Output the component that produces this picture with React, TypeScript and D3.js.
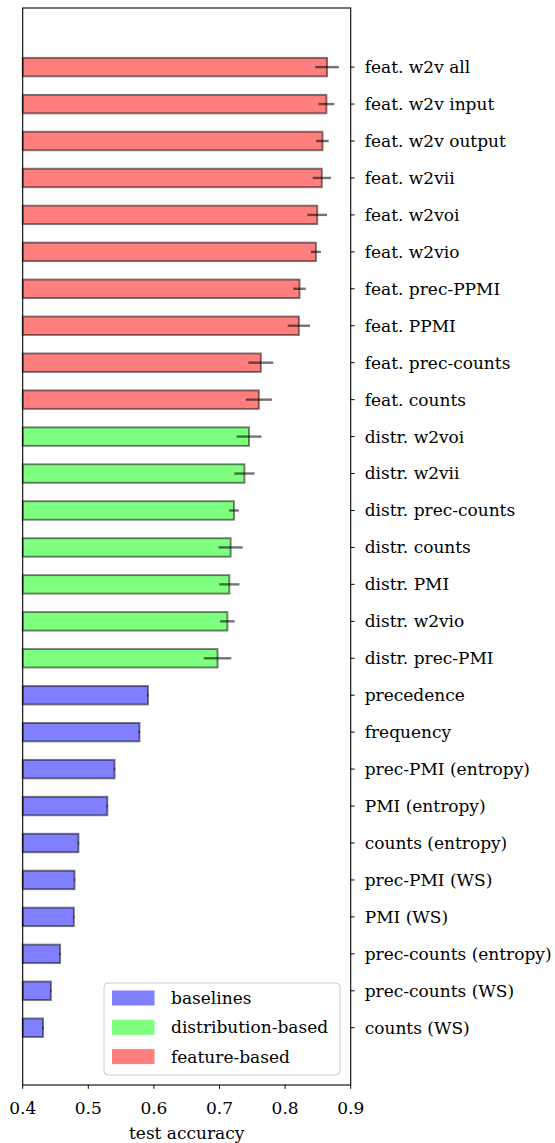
import React from "react";
import * as d3 from "d3";

const labels = [
  "feat. w2v all", "feat. w2v input", "feat. w2v output", "feat. w2vii", "feat. w2voi",
  "feat. w2vio", "feat. prec-PPMI", "feat. PPMI", "feat. prec-counts", "feat. counts",
  "distr. w2voi", "distr. w2vii", "distr. prec-counts", "distr. counts", "distr. PMI",
  "distr. w2vio", "distr. prec-PMI",
  "precedence", "frequency", "prec-PMI (entropy)", "PMI (entropy)", "counts (entropy)",
  "prec-PMI (WS)", "PMI (WS)", "prec-counts (entropy)", "prec-counts (WS)", "counts (WS)",
];
const values = [
  0.864, 0.863, 0.857, 0.856, 0.849, 0.847, 0.822, 0.821, 0.763, 0.760,
  0.745, 0.738, 0.722, 0.717, 0.715, 0.712, 0.697,
  0.591, 0.578, 0.540, 0.529, 0.485, 0.479, 0.478, 0.457, 0.443, 0.431,
];
const errors = [
  0.018, 0.012, 0.0095, 0.014, 0.015, 0.0076, 0.0095, 0.017, 0.019, 0.020,
  0.019, 0.0155, 0.0074, 0.0185, 0.0155, 0.011, 0.021,
  0.001, 0.001, 0.001, 0.001, 0.001, 0.001, 0.001, 0.001, 0.001, 0.001,
];
const groups = [
  "feature", "feature", "feature", "feature", "feature", "feature", "feature", "feature", "feature", "feature",
  "distribution", "distribution", "distribution", "distribution", "distribution", "distribution", "distribution",
  "baseline", "baseline", "baseline", "baseline", "baseline", "baseline", "baseline", "baseline", "baseline", "baseline",
];
const legendKeys = ["baseline", "distribution", "feature"];
const legendLabels = ["baselines", "distribution-based", "feature-based"];
const groupColors: Record<string, string> = {
  baseline: "#0000ff",
  distribution: "#00ff00",
  feature: "#ff0000",
};
const xTicks = [0.4, 0.5, 0.6, 0.7, 0.8, 0.9];

const FONT = "'DejaVu Serif', serif";

export default function App() {
  const W = 555, H = 1143;
  const left = 22.7, right = 350.7, top = 8, bottom = 1085;
  const x = d3.scaleLinear().domain([0.4, 0.9]).range([left, right]);
  const y = d3.scaleLinear().domain([-1.6, labels.length + 0.55]).range([top, bottom]);
  const bandH = y(0.25) - y(-0.25);
  const fs = 17;

  return (
    <svg width={W} height={H} style={{ position: "absolute", left: 0, top: 0 }} fontFamily={FONT}>
      <rect x={0} y={0} width={W} height={H} fill="#fff" />
      {values.map((v, i) => (
        <rect
          key={"b" + i}
          x={x(0.4)}
          y={y(i) - bandH / 2}
          width={x(v) - x(0.4)}
          height={bandH}
          fill={groupColors[groups[i]]}
          fillOpacity={0.5}
          stroke="#000"
          strokeOpacity={0.5}
          strokeWidth={1.9}
        />
      ))}
      {values.map((v, i) => (
        <line
          key={"e" + i}
          x1={x(v - errors[i])}
          x2={x(v + errors[i])}
          y1={y(i)}
          y2={y(i)}
          stroke="#000"
          strokeOpacity={0.55}
          strokeWidth={2.4}
        />
      ))}
      {/* spines */}
      <rect x={left} y={top} width={right - left} height={bottom - top} fill="none" stroke="#000" strokeWidth={1.1} />
      {/* right ticks and labels */}
      {labels.map((l, i) => (
        <g key={"t" + i}>
          <line x1={right} x2={right + 3.8} y1={y(i)} y2={y(i)} stroke="#000" strokeWidth={1} />
          <text x={right + 14} y={y(i)} dy="0.35em" fontSize={fs} fill="#000">
            {l}
          </text>
        </g>
      ))}
      {/* x ticks */}
      {xTicks.map((t) => (
        <g key={"x" + t}>
          <line x1={x(t)} x2={x(t)} y1={bottom} y2={bottom + 3.8} stroke="#000" strokeWidth={1} />
          <text x={x(t)} y={bottom + 29} textAnchor="middle" fontSize={fs} fill="#000">
            {t.toFixed(1)}
          </text>
        </g>
      ))}
      <text x={(left + right) / 2} y={1139} textAnchor="middle" fontSize={fs} fill="#000">
        test accuracy
      </text>
      {/* legend */}
      <rect x={104} y={983} width={236} height={92} rx={4} fill="#fff" fillOpacity={0.8} stroke="#cccccc" strokeWidth={1} />
      {legendKeys.map((k, i) => (
        <g key={"l" + k}>
          <rect x={112} y={990.5 + i * 29.3} width={42.5} height={15} fill={groupColors[k]} fillOpacity={0.5} />
          <text x={171} y={998 + i * 29.3} dy="0.35em" fontSize={fs} fill="#000">
            {legendLabels[i]}
          </text>
        </g>
      ))}
    </svg>
  );
}
